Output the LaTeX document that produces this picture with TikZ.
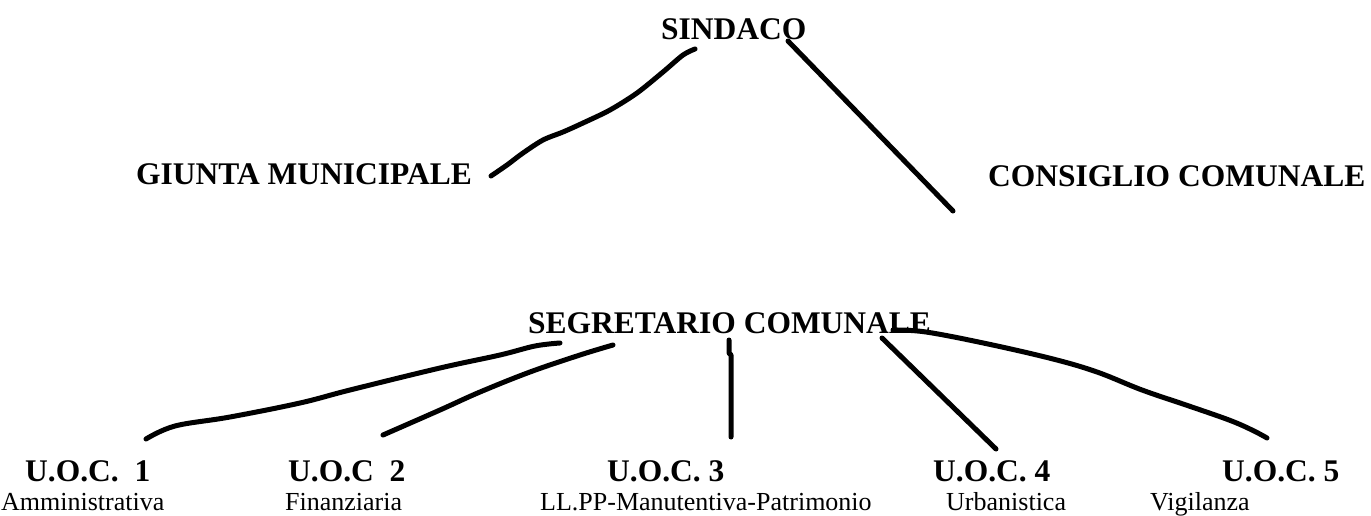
\documentclass[tikz,border=0pt]{standalone}
\usepackage{fontspec}
\setmainfont{Liberation Serif}
\begin{document}
\begin{tikzpicture}[x=1pt,y=-1pt,
  head/.style={font=\fontsize{31.5}{32}\selectfont\bfseries, inner sep=0pt, anchor=base west},
  sub/.style={font=\fontsize{26}{27}\selectfont, inner sep=0pt, anchor=base west},
  link/.style={line width=5pt, line cap=round, line join=round}]
\useasboundingbox (0,0) rectangle (1371,516);
\fill[white] (0,0) rectangle (1371,516);
% nodes
\node[head] (sind) at (661,40) {SINDACO};
\node[head] (giunta) at (136,185) {GIUNTA MUNICIPALE};
\node[head] (cons) at (988,186) {CONSIGLIO COMUNALE};
\node[head] (segr) at (528,333) {SEGRETARIO COMUNALE};
\node[head] (u1) at (25,481) {U.O.C.\ \ 1};
\node[head] (u2) at (288,481) {U.O.C\ \ 2};
\node[head] (u3) at (607,481) {U.O.C. 3};
\node[head] (u4) at (933,481) {U.O.C. 4};
\node[head] (u5) at (1222,481) {U.O.C. 5};
\node[sub] (d1) at (1,510) {Amministrativa};
\node[sub] (d2) at (285,510) {Finanziaria};
\node[sub] (d3) at (540,510) {LL.PP-Manutentiva-Patrimonio};
\node[sub] (d4) at (946,510) {Urbanistica};
\node[sub] (d5) at (1150,510) {Vigilanza};
% connector end points
\coordinate (sA) at (695,49);
\coordinate (gA) at (491,176);
\coordinate (sB) at (788,41);
\coordinate (cB) at (953,211);
\coordinate (s1) at (560,343);
\coordinate (e1) at (146,439);
\coordinate (s2) at (613,345);
\coordinate (e2) at (383,435);
\coordinate (s3) at (729,340);
\coordinate (e3) at (731,437);
\coordinate (s4) at (882,338);
\coordinate (e4) at (996,449);
\coordinate (s5) at (893,330);
\coordinate (e5) at (1267,438);
% connectors
\draw[link] plot[smooth, tension=0.5] coordinates {(sA) (683,55) (663,72) (637,93) (610,110) (583,123) (563,132) (543,140) (523,153) (507,165) (gA)};
\draw[link] (sB) -- (cB);
\draw[link] plot[smooth, tension=0.6] coordinates {(s1) (535,346) (500,355) (440,368) (350,390) (300,403) (230,417) (175,426) (e1)};
\draw[link] plot[smooth, tension=0.6] coordinates {(s2) (580,355) (530,372) (480,392) (440,410) (e2)};
\draw[link] (s3) -- (729,353) -- (731,355) -- (e3);
\draw[link] (s4) -- (e4);
\draw[link] plot[smooth, tension=0.6] coordinates {(s5) (926,332) (988,344) (1053,359) (1097,372) (1142,390) (1186,405) (1229,420) (1252,430) (e5)};
\end{tikzpicture}
\end{document}
